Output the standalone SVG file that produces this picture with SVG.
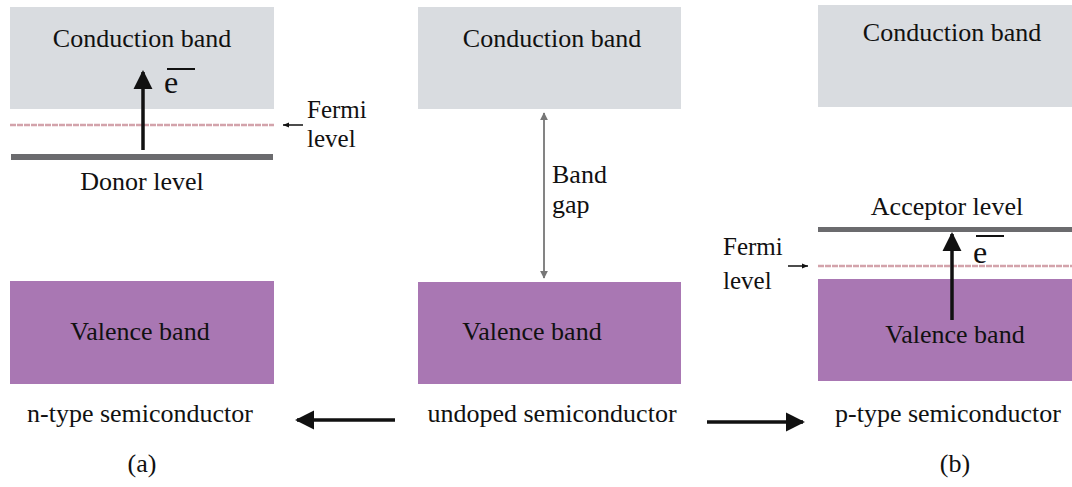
<svg xmlns="http://www.w3.org/2000/svg" width="1072" height="487" viewBox="0 0 1072 487">
<style>
.cb{fill:#d9dce0}
.vb{fill:#a977b3}
.lvl{fill:#6b6b6e}
.fermi{stroke:#d3a3ab;stroke-width:2.5;stroke-dasharray:6 1}
.thin{stroke:#111;stroke-width:1.5}
.big{stroke:#111;stroke-width:3.5}
</style>
<defs>
<marker id="ah" viewBox="0 0 10 10" refX="10" refY="5" markerWidth="6" markerHeight="6" markerUnits="userSpaceOnUse" orient="auto"><path d="M0,1 L10,5 L0,9z" fill="#111"/></marker>
<marker id="ahBig" viewBox="0 0 10 10" refX="9" refY="5" markerWidth="5.5" markerHeight="5.5" orient="auto"><path d="M0,0 L10,5 L0,10z" fill="#111"/></marker>
<marker id="ahGray" viewBox="0 0 10 10" refX="9" refY="5" markerWidth="8" markerHeight="8" markerUnits="userSpaceOnUse" orient="auto-start-reverse"><path d="M0,0 L10,5 L0,10z" fill="#777"/></marker>
</defs>
<g font-family="Liberation Serif, Times New Roman, serif" font-size="26" fill="#111">
<g id="panel-a">
<rect class="cb" x="10" y="7" width="264" height="102"/>
<text x="142" y="47" text-anchor="middle">Conduction band</text>
<line class="fermi" x1="10" y1="125" x2="274" y2="125"/>
<rect class="lvl" x="11" y="154" width="262" height="6"/>
<text x="142" y="190" text-anchor="middle">Donor level</text>
<text x="164" y="93" font-size="32">e</text>
<line x1="167" y1="69" x2="195" y2="69" stroke="#111" stroke-width="2"/>
<text x="307" y="118" font-size="25">Fermi</text>
<text x="307" y="147" font-size="25">level</text>
<rect class="vb" x="10" y="281" width="264" height="103"/>
<text x="140" y="340" text-anchor="middle">Valence band</text>
</g>

<g id="panel-undoped">
<rect class="cb" x="418" y="7" width="263" height="102"/>
<text x="552" y="47" text-anchor="middle">Conduction band</text>
<text x="552" y="183">Band</text>
<text x="552" y="213">gap</text>
<rect class="vb" x="418" y="282" width="263" height="102"/>
<text x="532" y="340" text-anchor="middle">Valence band</text>
</g>

<g id="panel-b">
<rect class="cb" x="818" y="5" width="254" height="102"/>
<text x="952" y="41" text-anchor="middle">Conduction band</text>
<text x="947" y="215" text-anchor="middle">Acceptor level</text>
<rect class="lvl" x="818" y="227" width="254" height="5"/>
<line class="fermi" x1="818" y1="266" x2="1072" y2="266"/>
<rect class="vb" x="818" y="279" width="254" height="102"/>
<text x="955" y="343" text-anchor="middle">Valence band</text>
<text x="973" y="263" font-size="32">e</text>
<line x1="976" y1="236" x2="1004" y2="236" stroke="#111" stroke-width="2"/>
<text x="723" y="255" font-size="25">Fermi</text>
<text x="723" y="289" font-size="25">level</text>
</g>

<g id="labels">
<text x="140" y="422" text-anchor="middle">n-type semiconductor</text>
<text x="552" y="422" text-anchor="middle">undoped semiconductor</text>
<text x="948" y="422" text-anchor="middle">p-type semiconductor</text>
<text x="142" y="472" text-anchor="middle">(a)</text>
<text x="955" y="472" text-anchor="middle">(b)</text>
</g>
</g>
<g id="connectors">
<line x1="143" y1="150" x2="143" y2="72" class="big" marker-end="url(#ahBig)"/>
<line x1="952" y1="320" x2="952" y2="234" class="big" marker-end="url(#ahBig)"/>
<line x1="303" y1="125" x2="283" y2="125" class="thin" marker-end="url(#ah)"/>
<line x1="788" y1="266" x2="808" y2="266" class="thin" marker-end="url(#ah)"/>
<line x1="544" y1="113" x2="544" y2="278" stroke="#777" stroke-width="1.8" marker-start="url(#ahGray)" marker-end="url(#ahGray)"/>
<line x1="395" y1="420" x2="297" y2="420" class="big" marker-end="url(#ahBig)"/>
<line x1="707" y1="422" x2="803" y2="422" class="big" marker-end="url(#ahBig)"/>
</g>
</svg>
